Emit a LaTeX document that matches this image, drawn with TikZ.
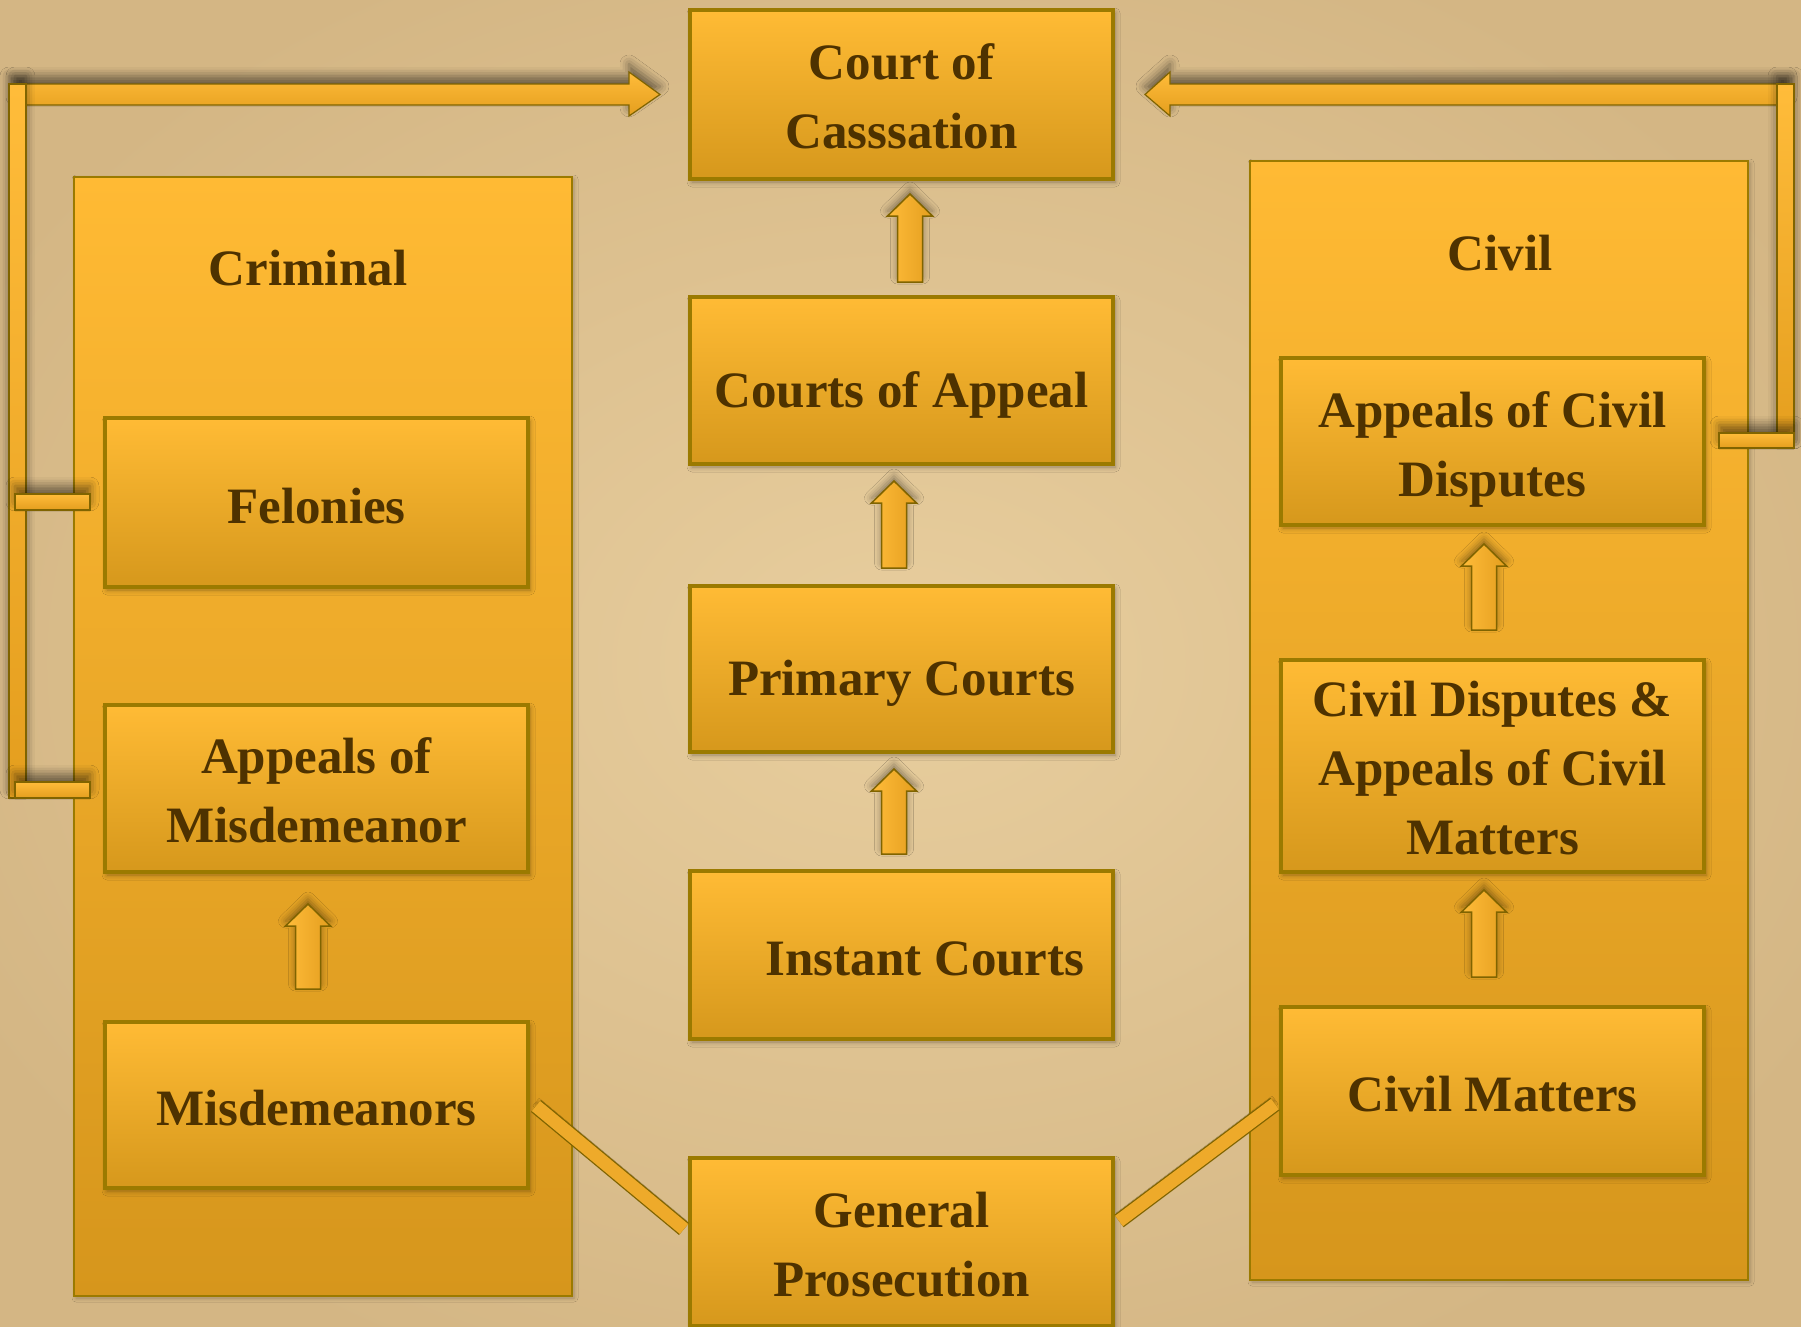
\documentclass[tikz,border=0pt]{standalone}
\usepackage{fontspec}
\setmainfont{Liberation Serif}
\usetikzlibrary{calc,shadows.blur}
\definecolor{bgin}{RGB}{232,206,158}
\definecolor{bgout}{RGB}{212,182,132}
\definecolor{boxtop}{RGB}{255,187,53}
\definecolor{boxbot}{RGB}{214,152,28}
\definecolor{paneltop}{RGB}{255,186,52}
\definecolor{panelbot}{RGB}{214,150,28}
\definecolor{edgec}{RGB}{155,122,0}
\definecolor{arredge}{RGB}{128,100,0}
\definecolor{arrl}{RGB}{255,188,58}
\definecolor{arrr}{RGB}{228,158,30}
\definecolor{diagfill}{RGB}{238,170,42}
\definecolor{txt}{RGB}{78,50,0}
\newcommand\upblock[2]{%
  \draw[blockarr] let \p1=(#1), \p2=(#2) in
  (\x1-12.5pt,\y1) -- (\x1-12.5pt,\y2-22pt) -- (\x1-22.5pt,\y2-22pt) -- (\x1,\y2)
  -- (\x1+22.5pt,\y2-22pt) -- (\x1+12.5pt,\y2-22pt) -- (\x1+12.5pt,\y1) -- cycle;}
\newcommand\topline{\rule{0pt}{40pt}}
\newcommand\nodepth[1]{\raisebox{0pt}[\height][0pt]{#1}}
\newcommand\single[1]{\rule{0pt}{41pt}\nodepth{#1}}
\newcommand\singled[1]{\rule{0pt}{53pt}\nodepth{#1}}
\begin{document}
\begin{tikzpicture}[x=1pt,y=-1pt,
  court/.style={draw=edgec, line width=4pt, top color=boxtop, bottom color=boxbot,
    minimum width=423pt, inner sep=0pt, align=center, text=txt,
    font=\fontsize{51}{69}\selectfont\bfseries,
    blur shadow={shadow xshift=2pt, shadow yshift=-3pt, shadow blur radius=5pt, shadow opacity=35}},
  panel/.style={draw=edgec, line width=1.5pt, top color=paneltop, bottom color=panelbot,
    inner sep=0pt, minimum width=498pt, minimum height=1119pt,
    blur shadow={shadow xshift=2pt, shadow yshift=-2pt, shadow blur radius=4pt, shadow opacity=25}},
  ptitle/.style={text=txt, inner sep=0pt, font=\fontsize{51}{69}\selectfont\bfseries},
  blockarr/.style={draw=arredge, line width=1.5pt, left color=arrl, right color=arrr,
    blur shadow={shadow xshift=0pt, shadow yshift=5pt, shadow blur radius=7pt, shadow opacity=40}},
  bracket/.style={draw=arredge, line width=1.2pt, top color=arrl, bottom color=arrr,
    blur shadow={shadow xshift=0pt, shadow yshift=8pt, shadow blur radius=9pt, shadow opacity=50}},
  diag/.style={draw=arredge, line width=1.3pt, double=diagfill, double distance=13pt,
    blur shadow={shadow xshift=0pt, shadow yshift=4pt, shadow blur radius=5pt, shadow opacity=35}}
]
\useasboundingbox (0,0) rectangle (1801,1326);
\shade[inner color=bgin, outer color=bgout] (-150,-120) rectangle (1951,1446);

% panels
\node[panel] (crim) at (323,736.5) {};
\node[panel] (civ) at (1499,720.5) {};
\node[ptitle] (crimt) at (308,268) {Criminal};
\node[ptitle] (civt) at (1500,253) {Civil};

% left bracket
\draw[bracket] (15,84) -- (629,84) -- (629,72) -- (660,94.5) -- (629,116) -- (629,105) -- (15,105) -- cycle;
\draw[bracket] (9,84) rectangle (26,798);
\draw[bracket] (15,494) rectangle (90,510);
\draw[bracket] (15,782) rectangle (90,798);

% right bracket
\draw[bracket] (1788,84) -- (1170,84) -- (1170,72) -- (1145,94.5) -- (1170,116) -- (1170,105) -- (1788,105) -- cycle;
\draw[bracket] (1777,84) rectangle (1794,448);
\draw[bracket] (1719,433) rectangle (1794,448);

% centre column
\node[court, minimum height=169pt] (coc) at (901.5,94.5) {\topline Court of\\Casssation};
\node[court, minimum height=167pt] (coa) at (901.5,380.5) {\singled{Courts of Appeal}};
\node[court, minimum height=166pt] (pc) at (901.5,669) {\singled{Primary Courts}};
\node[court, minimum height=168pt] (ic) at (901.5,955) {\hspace*{47pt}\single{Instant Courts}};
\node[court, minimum height=168pt] (gp) at (901.5,1242) {\topline General\\Prosecution};

% criminal column
\node[court, minimum height=169pt] (fel) at (316.5,502.5) {\single{Felonies}};
\node[court, minimum height=167pt] (aom) at (316.5,788.5) {\topline Appeals of\\Misdemeanor};
\node[court, minimum height=166pt] (misd) at (316.5,1105) {\single{Misdemeanors}};

% civil column
\node[court, minimum height=167pt] (acd) at (1492.5,441.5) {\topline Appeals of Civil\\\nodepth{Disputes}};
\node[court, minimum height=212pt] (cdm) at (1492.5,766) {\topline Civil Disputes \&\\Appeals of Civil\\Matters};
\node[court, minimum height=168pt] (cm) at (1492.5,1091) {\single{Civil Matters}};

% up arrows
\coordinate (a1b) at ($(coa.north)+(8.5,-13)$);
\coordinate (a1t) at ($(coc.south)+(8.5,13)$);
\coordinate (a2b) at ($(pc.north)+(-7.5,-16)$);
\coordinate (a2t) at ($(coa.south)+(-7.5,15)$);
\coordinate (a3b) at ($(ic.north)+(-7.5,-15)$);
\coordinate (a3t) at ($(pc.south)+(-7.5,15)$);
\coordinate (a4b) at ($(misd.north)+(-8.5,-31)$);
\coordinate (a4t) at ($(aom.south)+(-8.5,30)$);
\coordinate (a5b) at ($(cdm.north)+(-8.5,-28)$);
\coordinate (a5t) at ($(acd.south)+(-8.5,17)$);
\coordinate (a6b) at ($(cm.north)+(-8.5,-28)$);
\coordinate (a6t) at ($(cdm.south)+(-8.5,16)$);
\upblock{a1b}{a1t}
\upblock{a2b}{a2t}
\upblock{a3b}{a3t}
\upblock{a4b}{a4t}
\upblock{a5b}{a5t}
\upblock{a6b}{a6t}

% diagonal links to General Prosecution
\draw[diag] ($(misd.east)+(6,1)$) -- ($(gp.west)+(-4,-13)$);
\draw[diag] ($(cm.west)+(-4,13)$) -- ($(gp.east)+(4,-21)$);
\end{tikzpicture}
\end{document}
